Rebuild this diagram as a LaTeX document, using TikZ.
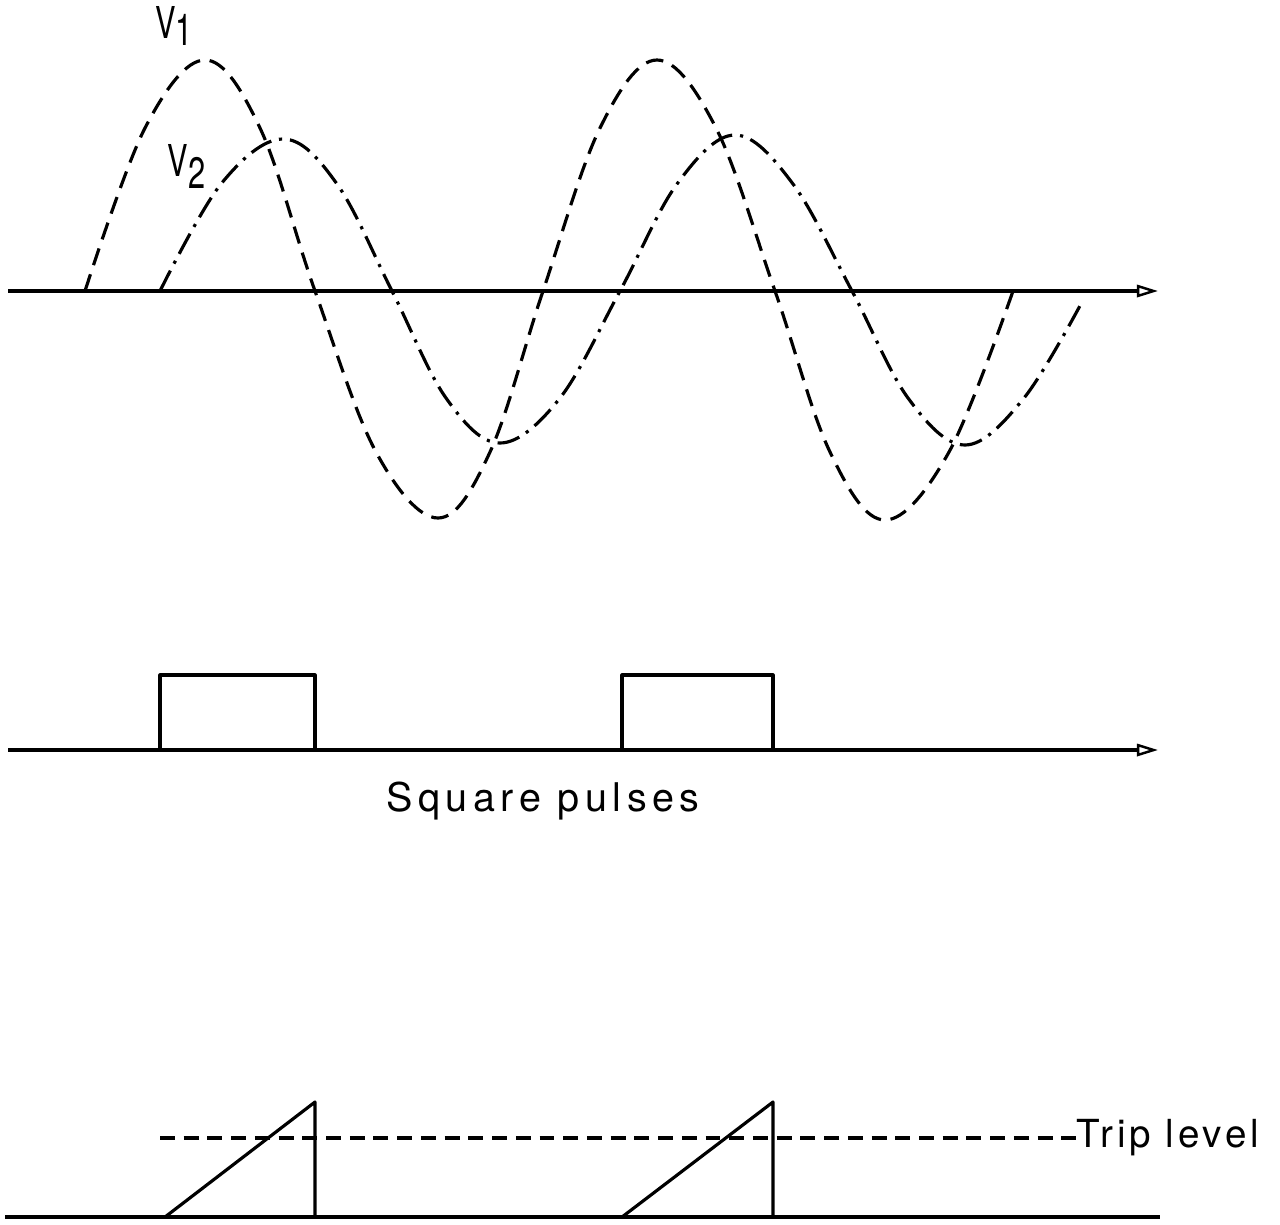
\documentclass[tikz,border=0pt]{standalone}
\usepackage{fontspec}
\setmainfont{TeX Gyre Heros}
\newfontfamily\spacedfont[LetterSpace=14]{TeX Gyre Heros}
\newfontfamily\tripfont[LetterSpace=10]{TeX Gyre Heros}
\usetikzlibrary{arrows.meta}
\tikzset{
  ln/.style={line width=1.8pt, line join=round},
  axisarrow/.style={ln, -{Triangle[open, length=12pt, width=7pt, line width=1.4pt]}},
  vonecurve/.style={ln, dash pattern=on 10pt off 5.5pt},
  vtwocurve/.style={ln, dash pattern=on 13pt off 4.5pt on 1.8pt off 4.5pt},
  tripdash/.style={ln, dash pattern=on 8.5pt off 5pt},
  lbl/.style={inner sep=0pt, font=\fontsize{21}{24}\selectfont},
  vlbl/.style={inner sep=0pt, xscale=0.7, font=\fontsize{25}{28}\selectfont},
}
\begin{document}
\begin{tikzpicture}[x=0.02cm, y=-0.02cm]
\useasboundingbox (0,0) rectangle (1280,1224);
% axes
\coordinate (a1s) at (8,291);  \coordinate (a1e) at (1158,291);
\coordinate (a2s) at (8,750);  \coordinate (a2e) at (1158,750);
\coordinate (a3s) at (5,1217); \coordinate (a3e) at (1160,1217);
\draw[axisarrow] (a1s) -- (a1e);
\draw[axisarrow] (a2s) -- (a2e);
\draw[ln] (a3s) -- (a3e);
% V1
\draw[vonecurve] plot[smooth, tension=0.6] coordinates {
 (85,291) (145,128) (205,60) (260,128) (315,291) (376,452) (438,518) (490,452)
 (543,291) (600,128) (657,60) (716,128) (775,291) (830,452) (885,520) (949,452) (1013,291)};
% V2
\draw[vtwocurve] plot[smooth, tension=0.6] coordinates {
 (160,291) (221,184) (283,139) (337,184) (392,291) (446,398) (500,443) (560,398)
 (620,291) (677,184) (735,135) (793,184) (852,291) (908,398) (965,445) (1024,398) (1082,302)};
% labels
\node[vlbl] (v1) at (166,22) {V};
\node[vlbl] (v1s) at (184,30) {1};
\node[vlbl] (v2) at (178,160) {V};
\node[vlbl] (v2s) at (197,173) {2};
% square pulses
\draw[ln] (160,750) -- (160,675) -- (315,675) -- (315,750);
\draw[ln] (622,750) -- (622,675) -- (773,675) -- (773,750);
\node[lbl, font=\spacedfont\fontsize{22.5}{26}\selectfont] (sq) at (543,801) {Square pulses};
% ramps
\draw[ln] (165,1217) -- (315,1102) -- (315,1217);
\draw[ln] (622,1217) -- (773,1102) -- (773,1217);
\coordinate (trs) at (160,1138);
\node[lbl, anchor=west, font=\tripfont\fontsize{22}{25}\selectfont] (trip) at (1076,1138) {Trip level};
\draw[tripdash] (trs) -- (trip.west);
\end{tikzpicture}
\end{document}
